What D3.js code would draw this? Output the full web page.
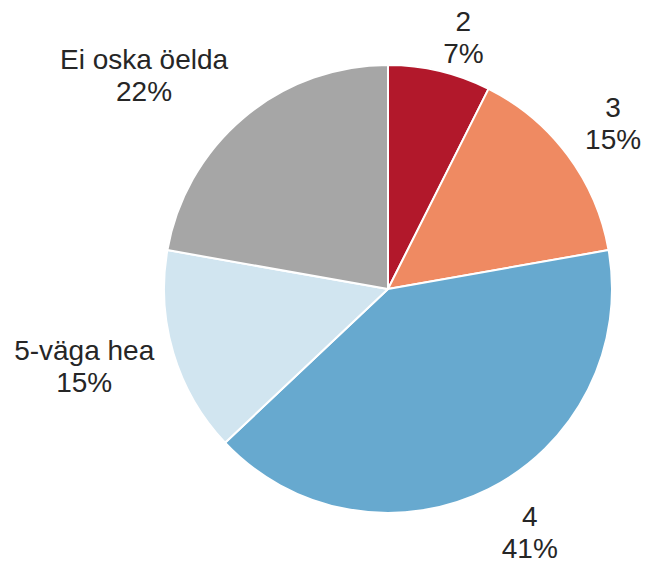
<!DOCTYPE html>
<html>
<head>
<meta charset="utf-8">
<script src="https://cdn.jsdelivr.net/npm/d3@7"></script>
<style>
  html, body { margin: 0; padding: 0; background: #fff; }
  svg { display: block; }
</style>
</head>
<body>
<svg id="chart" width="647" height="563"></svg>
<script>
const categories = ["2", "3", "4", "5-väga hea", "Ei oska öelda"];
const values = [2, 4, 11, 4, 6];
const colors = ["#B2182B", "#EF8A62", "#67A9CF", "#D1E5F0", "#A6A6A6"];

const total = d3.sum(values);
const data = categories.map((c, i) => ({
  cat: c,
  value: values[i],
  pct: Math.round(values[i] / total * 100) + "%",
  color: colors[i]
}));

const svg = d3.select("#chart");
const cx = 388, cy = 289, radius = 224;

const pie = d3.pie().value(d => d.value).sort(null);
const arc = d3.arc().innerRadius(0).outerRadius(radius);
const arcs = pie(data);

const g = svg.append("g").attr("transform", `translate(${cx},${cy})`);

g.selectAll("path.slice")
  .data(arcs)
  .enter().append("path")
  .attr("class", "slice")
  .attr("d", arc)
  .attr("fill", d => d.data.color)
  .attr("stroke", "#fff")
  .attr("stroke-width", 2)
  .attr("stroke-linejoin", "round");

// label layout: radial distance and angular nudge per label (layout, not data)
const labelLayout = [
  { r: 253, da: 4.0 },
  { r: 274, da: 1.9 },
  { r: 290, da: -2.6 },
  { r: 316, da: 0.7 },
  { r: 318, da: -10.1 }
];

const fontSize = 28;
const lineGap = 32;

const labels = g.selectAll("text.lbl")
  .data(arcs)
  .enter().append("text")
  .attr("class", "lbl")
  .attr("text-anchor", "middle")
  .attr("font-family", "'Liberation Sans', Arial, Helvetica, sans-serif")
  .attr("font-size", fontSize)
  .attr("fill", "#262626")
  .attr("transform", (d, i) => {
    const mid = (d.startAngle + d.endAngle) / 2 + labelLayout[i].da * Math.PI / 180;
    const r = labelLayout[i].r;
    const x = r * Math.sin(mid);
    const y = -r * Math.cos(mid);
    return `translate(${x},${y})`;
  });

labels.append("tspan")
  .attr("x", 0)
  .attr("y", -lineGap / 2)
  .text(d => d.data.cat);
labels.append("tspan")
  .attr("x", 0)
  .attr("y", lineGap / 2)
  .text(d => d.data.pct);
</script>
</body>
</html>
